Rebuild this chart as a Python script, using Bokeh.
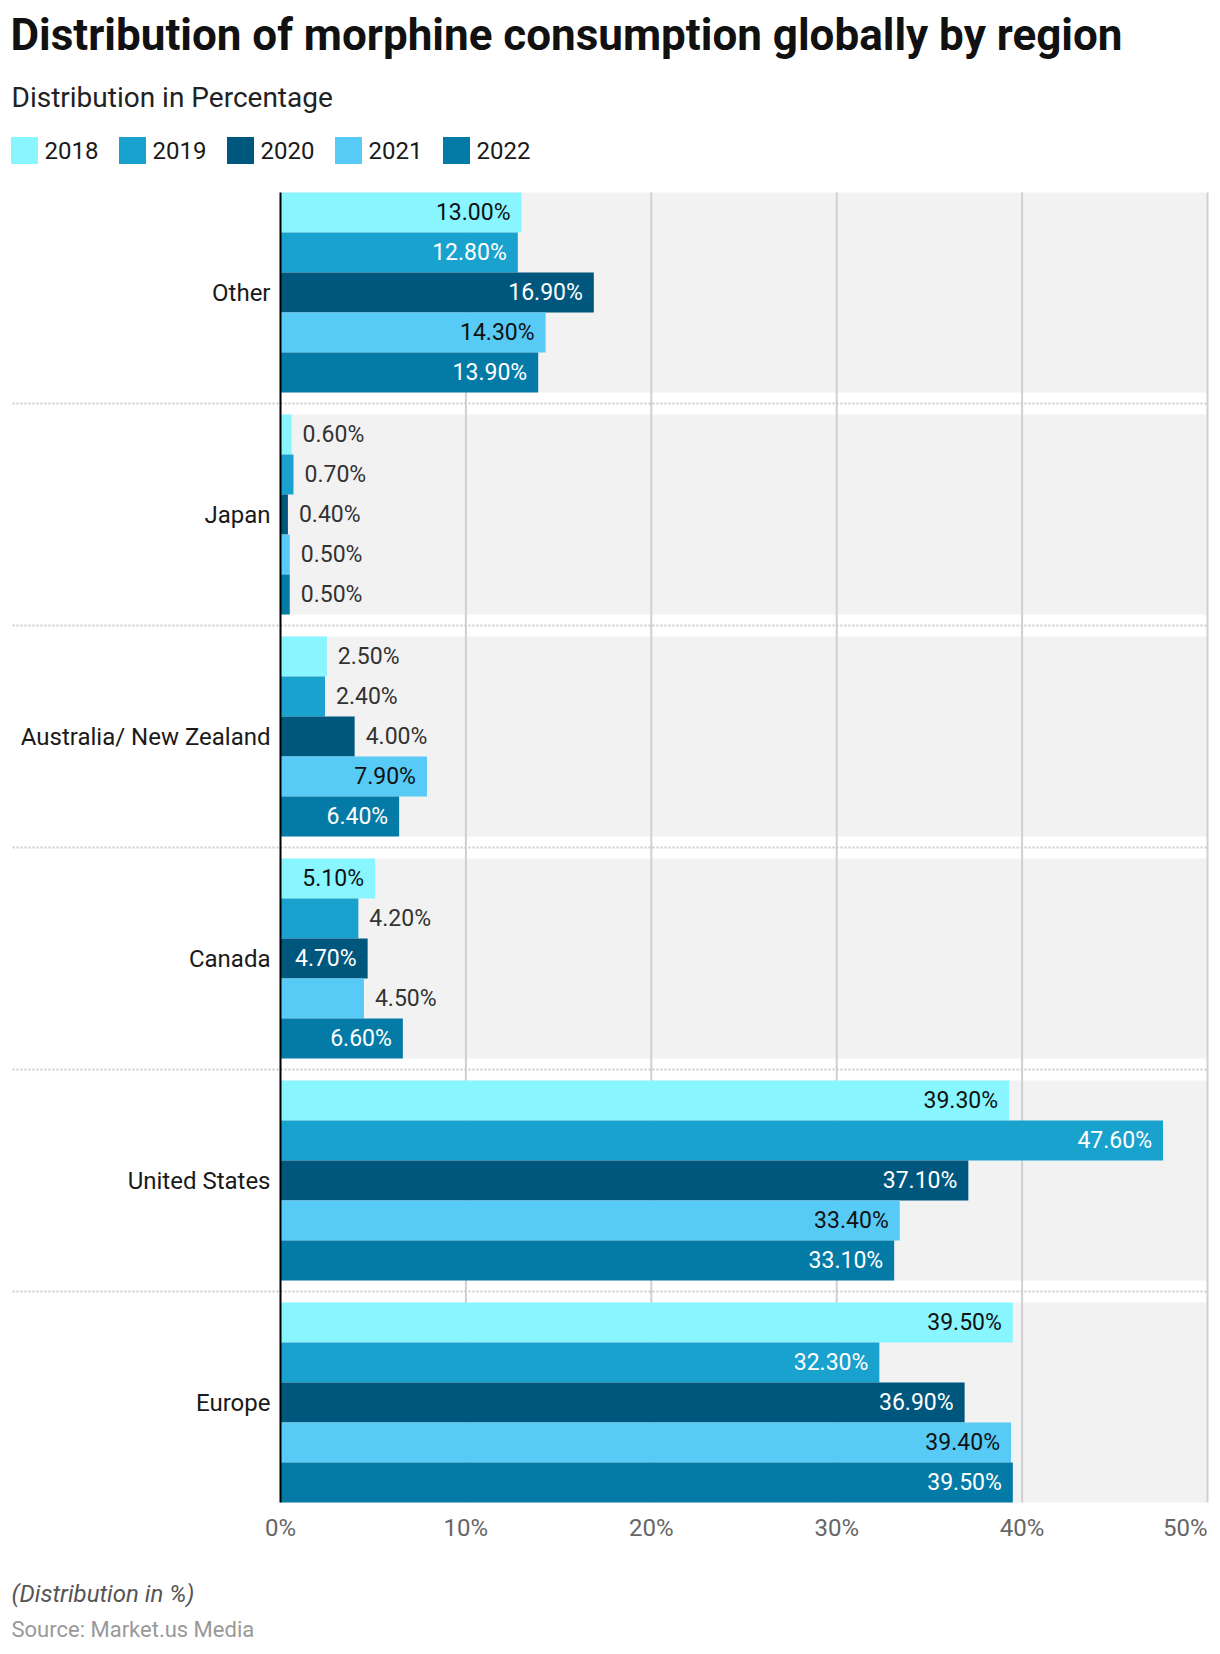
from bokeh.plotting import figure
from bokeh.models import ColumnDataSource, Range1d
from bokeh.core.properties import value
from bokeh.embed import file_html
from bokeh.resources import INLINE

# ---------------- data ----------------
regions = ["Other", "Japan", "Australia/ New Zealand", "Canada", "United States", "Europe"]
years = ["2018", "2019", "2020", "2021", "2022"]
v2018 = [13.0, 0.6, 2.5, 5.1, 39.3, 39.5]
v2019 = [12.8, 0.7, 2.4, 4.2, 47.6, 32.3]
v2020 = [16.9, 0.4, 4.0, 4.7, 37.1, 36.9]
v2021 = [14.3, 0.5, 7.9, 4.5, 33.4, 39.4]
v2022 = [13.9, 0.5, 6.4, 6.6, 33.1, 39.5]
x_ticks = [0, 10, 20, 30, 40, 50]
x_tick_labels = ["0%", "10%", "20%", "30%", "40%", "50%"]
title_text = "Distribution of morphine consumption globally by region"
subtitle_text = "Distribution in Percentage"
note_text = "(Distribution in %)"
source_text = "Source: Market.us Media"

series = [v2018, v2019, v2020, v2021, v2022]
colors = ["#88F5FF", "#19A2CE", "#00577D", "#57CAF6", "#037BA6"]
inside_text_colors = ["#111111", "#FFFFFF", "#FFFFFF", "#111111", "#FFFFFF"]
OUTSIDE_COLOR = "#333333"
INSIDE_MIN = 4.6  # bars narrower than this get their label outside

# ---------------- layout (reference pixels) ----------------
W, H = 1215, 1650
OFF = 0            # figure origin on the page
X0 = 280           # x pixel of 0%
PX_PER_PCT = 18.54
Y0 = 192           # y pixel of plot top
BAR = 40           # bar height in px (1 data unit)
GAP = 22.0 / BAR   # gap between groups in units
PITCH = 5 + GAP
N = len(regions)
TOTAL = N * 5 + (N - 1) * GAP
FONT = value("Roboto")


def dx(px):
    return (px - X0) / PX_PER_PCT


def dy(px):
    return (px - Y0) / BAR


p = figure(width=W, height=H, output_backend="svg", toolbar_location=None,
           x_range=Range1d(dx(OFF), dx(OFF + W)),
           y_range=Range1d(start=dy(OFF + H), end=dy(OFF)),
           x_axis_location=None, y_axis_location=None,
           min_border=0, outline_line_color=None, background_fill_color="white")
p.xgrid.grid_line_color = None
p.ygrid.grid_line_color = None

band_tops = [g * PITCH for g in range(N)]
group_centers = [t + 2.5 for t in band_tops]

# grey bands
p.quad(left=0, right=x_ticks[-1], top=band_tops, bottom=[t + 5 for t in band_tops],
       fill_color="#F2F2F2", line_color=None)

# vertical grid lines
p.segment(x0=x_ticks[1:], x1=x_ticks[1:], y0=0, y1=TOTAL,
          line_color="#D0D0D0", line_width=2)

# dotted group separators
sep_y = [t + 5 + GAP / 2 for t in band_tops[:-1]]
p.segment(x0=dx(12), x1=x_ticks[-1], y0=sep_y, y1=sep_y,
          line_color="#CCCCCC", line_width=2, line_dash="2 2")

# bars
for k, vals in enumerate(series):
    centers = [t + k + 0.5 for t in band_tops]
    p.hbar(y=centers, left=0, right=vals, height=1.0,
           fill_color=colors[k], line_color=None)

# axis line
p.segment(x0=0, x1=0, y0=0, y1=TOTAL, line_color="#000000", line_width=2)

# data labels
ins = dict(x=[], y=[], t=[], c=[])
outs = dict(x=[], y=[], t=[])
for k, vals in enumerate(series):
    for g, v in enumerate(vals):
        yc = band_tops[g] + k + 0.5
        lab = "%.2f%%" % v
        if v >= INSIDE_MIN:
            ins["x"].append(v); ins["y"].append(yc); ins["t"].append(lab)
            ins["c"].append(inside_text_colors[k])
        else:
            outs["x"].append(v); outs["y"].append(yc); outs["t"].append(lab)
p.text(x="x", y="y", text="t", source=ColumnDataSource(ins), text_color="c",
       text_align="right", text_baseline="middle", x_offset=-11,
       text_font=FONT, text_font_size="23px")
p.text(x="x", y="y", text="t", source=ColumnDataSource(outs), text_color=OUTSIDE_COLOR,
       text_align="left", text_baseline="middle", x_offset=11,
       text_font=FONT, text_font_size="23px")

# category labels
p.text(x=0, y=group_centers, text=regions, x_offset=-10, text_align="right",
       text_baseline="middle", text_color="#1A1A1A", text_font=FONT, text_font_size="24px")

# x tick labels
p.text(x=x_ticks[:-1], y=dy(1527), text=x_tick_labels[:-1], text_align="center",
       text_baseline="middle", text_color="#666666", text_font=FONT, text_font_size="24px")
p.text(x=x_ticks[-1:], y=dy(1527), text=x_tick_labels[-1:], text_align="right",
       text_baseline="middle", text_color="#666666", text_font=FONT, text_font_size="24px")

# title / subtitle
p.text(x=dx(10), y=dy(34), text=[title_text], text_align="left", text_baseline="middle",
       text_color="#111111", text_font=FONT, text_font_style="bold", text_font_size="44px")
p.text(x=dx(11), y=dy(97), text=[subtitle_text], text_align="left", text_baseline="middle",
       text_color="#222222", text_font=FONT, text_font_size="28px")

# legend
leg_sq_x = [dx(24 + 108 * i) for i in range(len(years))]
leg_tx_x = [dx(44 + 108 * i) for i in range(len(years))]
p.rect(x=leg_sq_x, y=dy(150), width=27, height=27, width_units="screen",
       height_units="screen", fill_color=colors, line_color=None)
p.text(x=leg_tx_x, y=dy(150), text=years, text_align="left", text_baseline="middle",
       text_color="#1A1A1A", text_font=FONT, text_font_size="24px")

# footer
p.text(x=dx(11), y=dy(1593), text=[note_text], text_align="left", text_baseline="middle",
       text_color="#555555", text_font=FONT, text_font_style="italic", text_font_size="24px")
p.text(x=dx(11), y=dy(1629), text=[source_text], text_align="left", text_baseline="middle",
       text_color="#999999", text_font=FONT, text_font_size="22px")

open("out.html", "w").write(file_html(p, INLINE))
